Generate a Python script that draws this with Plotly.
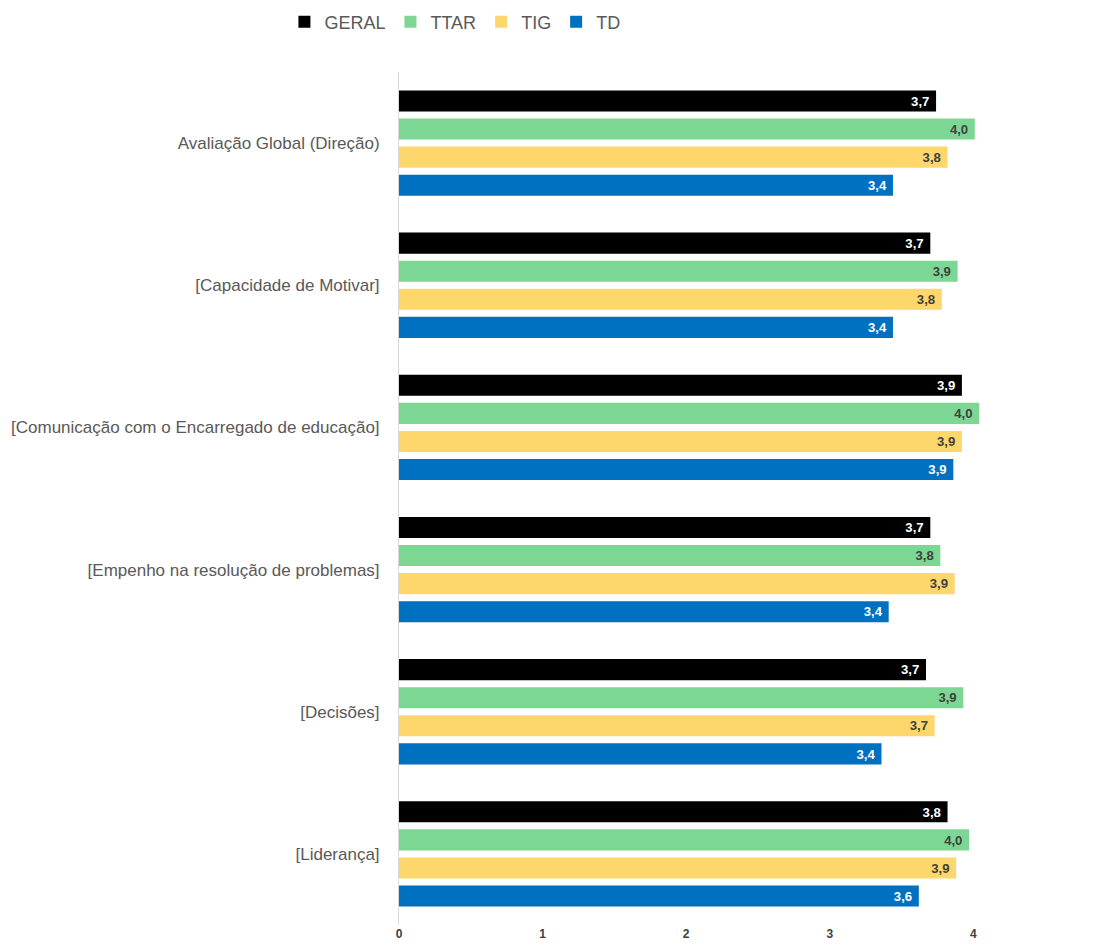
import plotly.graph_objects as go

categories = [
    "Avaliação Global (Direção)",
    "[Capacidade de Motivar]",
    "[Comunicação com o Encarregado de educação]",
    "[Empenho na resolução de problemas]",
    "[Decisões]",
    "[Liderança]",
]
series_names = ["GERAL", "TTAR", "TIG", "TD"]
geral = [3.74, 3.70, 3.92, 3.70, 3.67, 3.82]
ttar = [4.01, 3.89, 4.04, 3.77, 3.93, 3.97]
tig = [3.82, 3.78, 3.92, 3.87, 3.73, 3.88]
td = [3.44, 3.44, 3.86, 3.41, 3.36, 3.62]
x_ticks = [0, 1, 2, 3, 4, 5]

colors = ["#000000", "#7DD794", "#FDD76B", "#0070C0"]
text_colors = ["#FFFFFF", "#404040", "#404040", "#FFFFFF"]

fig = go.Figure()
for name, vals, c, tc in zip(series_names, [geral, ttar, tig, td], colors, text_colors):
    fig.add_trace(go.Bar(
        y=categories, x=vals, name=name, orientation="h",
        marker=dict(color=c, line=dict(width=0)),
        text=["<b>" + f"{v:.1f}".replace(".", ",") + "</b>\u00a0" for v in vals],
        textposition="inside", insidetextanchor="end",
        textfont=dict(color=tc, size=14, family="Liberation Sans Narrow, Arial Narrow, Liberation Sans"),
        textangle=0, cliponaxis=False,
    ))

fig.update_layout(
    width=1109, height=940,
    barmode="group", bargap=0.21, bargroupgap=0.25,
    plot_bgcolor="white", paper_bgcolor="white",
    margin=dict(l=391, r=0, t=64, b=23),
    legend=dict(orientation="h", xref="container", yref="container",
                x=0.403, xanchor="center", y=0.985, yanchor="middle",
                font=dict(size=18, color="#595959", family="Liberation Sans, Arial"),
                itemwidth=30, traceorder="normal"),
    font=dict(family="Liberation Sans, Arial", color="#595959"),
)
fig.update_xaxes(range=[0, 5], tickvals=x_ticks, ticktext=[f"<b>{t}</b>" for t in x_ticks],
                 showgrid=False, zeroline=False, showline=False, ticks="",
                 tickfont=dict(size=12, color="#404040", family="Liberation Sans Narrow, Arial Narrow, Liberation Sans"))
fig.update_yaxes(autorange="reversed", showgrid=False, showline=True, linecolor="#D9D9D9",
                 linewidth=1, ticks="", ticklabelstandoff=15,
                 tickfont=dict(size=17, color="#595959"))

fig.write_html("out.html")
